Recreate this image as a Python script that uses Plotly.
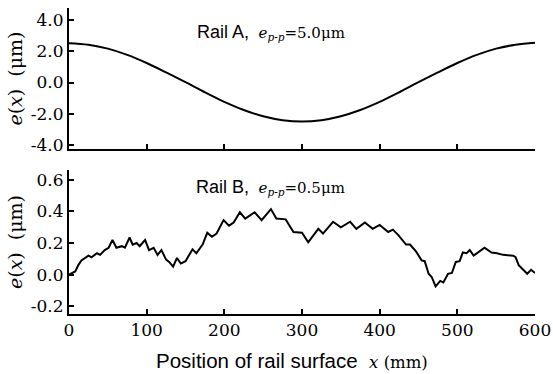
import plotly.graph_objects as go
from plotly.subplots import make_subplots

# Rail A (every 25 mm)
xa = [0, 25, 50, 75, 100, 125, 150, 175, 200, 225, 250, 275, 300,
      325, 350, 375, 400, 425, 450, 475, 500, 525, 550, 575, 600]
ea = [2.52, 2.42, 2.17, 1.77, 1.25, 0.65, 0.02, -0.63, -1.24, -1.76, -2.16, -2.41, -2.5,
      -2.41, -2.16, -1.76, -1.24, -0.63, 0.02, 0.65, 1.25, 1.77, 2.17, 2.42, 2.55]

# Rail B
xb = [0, 8, 12, 16, 25, 29, 36, 40, 46, 51, 56, 61, 68, 72, 78, 82, 87, 91, 98, 103,
      109, 114, 119, 125, 129, 134, 139, 144, 150, 155, 159, 164, 172, 178, 184, 190,
      199, 206, 212, 220, 227, 239, 248, 260, 267, 279, 289, 300, 308, 321, 327, 340,
      350, 362, 370, 381, 391, 400, 411, 417, 424, 434, 439, 447, 454, 458, 463, 467,
      472, 478, 482, 488, 493, 498, 503, 507, 512, 516, 521, 535, 544, 551, 559, 572,
      575, 579, 590, 595, 600]
eb = [0.0, 0.02, 0.06, 0.09, 0.12, 0.11, 0.135, 0.125, 0.155, 0.17, 0.22, 0.17, 0.18,
      0.17, 0.235, 0.19, 0.2, 0.18, 0.22, 0.155, 0.17, 0.125, 0.155, 0.095, 0.08, 0.05,
      0.105, 0.07, 0.085, 0.13, 0.16, 0.135, 0.19, 0.265, 0.24, 0.26, 0.345, 0.31, 0.33,
      0.395, 0.355, 0.395, 0.345, 0.415, 0.355, 0.35, 0.27, 0.265, 0.205, 0.29, 0.26,
      0.335, 0.3, 0.335, 0.29, 0.33, 0.29, 0.315, 0.27, 0.285, 0.25, 0.19, 0.19, 0.145,
      0.09, 0.085, 0.005, -0.015, -0.075, -0.04, -0.05, 0.005, 0.01, 0.08, 0.085, 0.14,
      0.135, 0.155, 0.12, 0.17, 0.14, 0.135, 0.125, 0.12, 0.11, 0.06, 0.005, 0.03, 0.01]

xticks = [0, 100, 200, 300, 400, 500, 600]
ya_ticks = [4.0, 2.0, 0.0, -2.0, -4.0]
yb_ticks = [0.6, 0.4, 0.2, 0.0, -0.2]

SERIF = "DejaVu Serif"
SANS = "Liberation Sans"

fig = make_subplots(rows=2, cols=1, shared_xaxes=False, vertical_spacing=0.05)
fig.add_trace(go.Scatter(x=xa, y=ea, mode="lines", line=dict(color="black", width=2, shape="spline"),
                         showlegend=False), row=1, col=1)
fig.add_trace(go.Scatter(x=xb, y=eb, mode="lines", line=dict(color="black", width=2),
                         showlegend=False), row=2, col=1)

axis_common = dict(showgrid=False, zeroline=False, showline=True, linecolor="black", linewidth=2,
                   ticks="inside", ticklen=5, tickwidth=1.5, tickcolor="black", automargin=False,
                   tickfont=dict(family=SERIF, size=17, color="black"))

fig.update_xaxes(**axis_common, range=[0, 600], tickvals=xticks, showticklabels=False, row=1, col=1)
fig.update_xaxes(**axis_common, range=[0, 600], tickvals=xticks, ticktext=[str(v) for v in xticks],
                 row=2, col=1)
ytitle = "<i>e</i>(<i>x</i>)  (μm)"
fig.update_yaxes(**axis_common, range=[-4.26, 4.77], tickvals=ya_ticks,
                 ticktext=["%.1f" % v for v in ya_ticks],
                 title=dict(text=ytitle, font=dict(family=SERIF, size=19, color="black"), standoff=3),
                 row=1, col=1)
fig.update_yaxes(**axis_common, range=[-0.25, 0.663], tickvals=yb_ticks,
                 ticktext=["%.1f" % v for v in yb_ticks],
                 title=dict(text=ytitle, font=dict(family=SERIF, size=19, color="black"), standoff=3),
                 row=2, col=1)

fig.update_layout(
    width=553, height=374,
    margin=dict(l=69, r=18, t=8, b=60),
    plot_bgcolor="white", paper_bgcolor="white",
    xaxis=dict(domain=[0, 1]), yaxis=dict(domain=[0.539, 1.0]),
    xaxis2=dict(domain=[0, 1]), yaxis2=dict(domain=[0, 0.4706]),
)

# x-axis title (placed slightly left of centre, as in the original)
fig.add_annotation(xref="paper", yref="paper", x=0.478, y=0, yshift=-46, xanchor="center", yanchor="middle",
                   showarrow=False,
                   text="Position of rail surface  <span style='font-family:DejaVu Serif;font-size:16.5px'><i>x</i> (mm)</span>",
                   font=dict(family=SANS, size=20.5, color="black"))

fig.add_annotation(xref="x", yref="y", x=162, y=3.2, xanchor="left", yanchor="middle", showarrow=False,
                   text="<span style='font-family:Liberation Sans;font-size:18px'>Rail A,</span>  <i>e<sub>p-p</sub></i>=5.0μm",
                   font=dict(family=SERIF, size=15, color="black"))
fig.add_annotation(xref="x2", yref="y2", x=161, y=0.55, xanchor="left", yanchor="middle", showarrow=False,
                   text="<span style='font-family:Liberation Sans;font-size:18px'>Rail B,</span>  <i>e<sub>p-p</sub></i>=0.5μm",
                   font=dict(family=SERIF, size=15, color="black"))

fig.write_html("out.html", config={"displayModeBar": False},
               post_script="document.body.style.margin='0';document.body.style.overflow='hidden';")
